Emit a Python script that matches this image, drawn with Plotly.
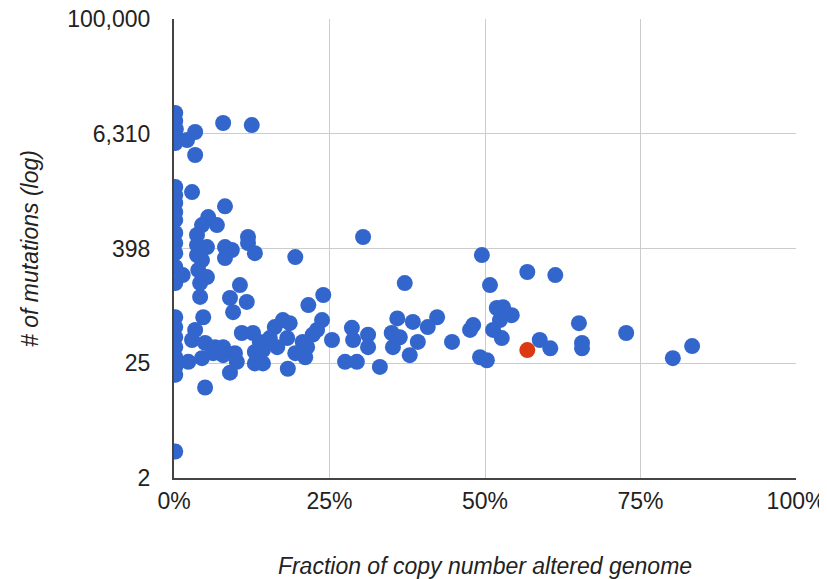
import plotly.graph_objects as go

# Fraction of copy number altered genome (fraction 0..1) and # of mutations
blue_x_pct = [
    0.2, 0.2, 0.3, 0.3, 0.2, 2.1, 3.4, 3.4, 7.9, 12.5,
    0.2, 0.2, 0.2, 0.2, 0.2, 2.9, 8.2, 5.5, 6.9, 4.5,
    3.7, 0.2, 0.2, 0.2, 0.2, 0.2, 1.4, 3.7, 3.7, 4.5,
    5.3, 3.9, 5.3, 4.2, 4.2, 8.2, 9.3, 8.2, 11.9, 11.9,
    13.0, 19.5, 10.6, 9.0, 11.7, 9.5, 21.6, 24.0, 30.4, 49.5,
    61.3, 37.1, 50.8, 51.9, 54.3, 52.9, 48.1, 47.6, 42.3, 40.8,
    35.9, 38.4, 35.0, 36.3, 39.2, 35.2, 37.9, 44.7, 28.6, 28.8,
    31.2, 31.2, 27.5, 29.4, 33.1, 23.8, 23.0, 25.4, 21.4, 20.7,
    49.2, 50.3, 51.3, 52.7, 52.4, 58.8, 60.5, 65.1, 72.7, 65.6,
    65.6, 80.2, 83.3, 10.9, 12.7, 17.5, 16.2, 18.6, 15.4, 18.2,
    20.7, 22.3, 7.9, 9.8, 13.0, 14.3, 10.1, 13.0, 14.3, 16.6,
    19.5, 21.1, 18.3, 9.0, 0.2, 0.2, 0.2, 0.2, 0.2, 0.2,
    0.2, 4.7, 3.4, 2.9, 5.0, 6.6, 2.3, 4.5, 7.9, 5.0,
    0.2, 6.3, 13.8, 56.8,
]
blue_mutations = [
    10400, 8570, 7060, 5830, 5050, 5420, 6580, 3780, 8170, 7780,
    1750, 1440, 1190, 957, 789, 1550, 1100, 849, 700, 700,
    551, 578, 454, 356, 255, 173, 210, 432, 340, 301,
    412, 237, 200, 173, 124, 412, 384, 316, 525, 454,
    356, 324, 165, 121, 110, 86, 102, 130, 525, 340,
    210, 173, 165, 95, 80, 97, 63, 56, 76, 60,
    74, 68, 52, 47, 42, 37, 30.5, 42, 59, 44,
    50, 37, 26, 26, 23, 71, 56, 44, 37, 32,
    29, 27, 56, 46, 71, 44, 36, 66, 52, 41,
    36, 28.4, 38, 52, 52, 71, 60, 66, 46, 46,
    42, 50, 37, 32, 33, 34.5, 26, 25, 25, 37,
    32, 29, 22, 20, 76, 60, 47, 37, 29, 23,
    19, 76, 56, 44, 41, 37, 26, 28.4, 30.5, 14,
    3, 32, 42, 226,
]
red_x_pct = [56.8]
red_mutations = [34.5]

y_tick_exponents = [0.2, 1.4, 2.6, 3.8, 5.0]
y_tick_labels = ["2", "25", "398", "6,310", "100,000"]
x_tick_vals = [0, 0.25, 0.5, 0.75, 1.0]
x_tick_labels = ["0%", "25%", "50%", "75%", "100%"]

FONT = "Liberation Sans, Arial, sans-serif"

fig = go.Figure()
fig.add_trace(go.Scatter(
    x=[v / 100 for v in blue_x_pct], y=blue_mutations, mode="markers",
    marker=dict(size=16, color="#3366cc", line=dict(width=0)),
    showlegend=False, hoverinfo="x+y",
))
fig.add_trace(go.Scatter(
    x=[v / 100 for v in red_x_pct], y=red_mutations, mode="markers",
    marker=dict(size=16, color="#dc3912", line=dict(width=0)),
    showlegend=False, hoverinfo="x+y",
))

fig.update_layout(
    width=827, height=579,
    margin=dict(l=166, r=39, t=11, b=109),
    paper_bgcolor="white", plot_bgcolor="white",
    font=dict(family=FONT, size=23, color="#222222"),
)
fig.update_xaxes(
    range=[0, 1], tickvals=x_tick_vals, ticktext=x_tick_labels,
    showgrid=True, gridcolor="#cccccc", gridwidth=1,
    zeroline=False, showline=True, linecolor="#444444", linewidth=2,
    ticks="", ticklabelstandoff=1, automargin=False, ticklabeloverflow="allow",
    title=dict(text="<i>Fraction of copy number altered genome</i>",
               font=dict(size=23, color="#222222"), standoff=45),
)
fig.update_yaxes(
    type="log", range=[0.2, 5.0],
    tickvals=[10 ** e for e in y_tick_exponents], ticktext=y_tick_labels,
    showgrid=True, gridcolor="#cccccc", gridwidth=1,
    zeroline=False, showline=True, linecolor="#444444", linewidth=2,
    ticks="", ticklabelstandoff=17, automargin=False, ticklabeloverflow="allow",
    title=dict(text="<i># of mutations (log)</i>",
               font=dict(size=23, color="#222222"), standoff=22),
)
fig.write_html("out.html")
